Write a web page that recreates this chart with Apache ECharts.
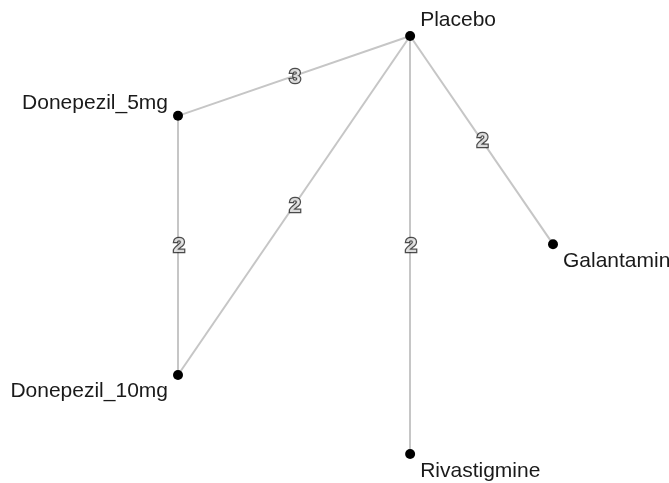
<!DOCTYPE html>
<html>
<head>
<meta charset="utf-8">
<script src="https://cdn.jsdelivr.net/npm/echarts@6/dist/echarts.min.js"></script>
<style>html,body{margin:0;padding:0;background:#fff}#c{width:669px;height:483px}</style>
</head>
<body>
<div id="c"></div>
<script>
// Network data
const treatments = ['Placebo', 'Donepezil_5mg', 'Donepezil_10mg', 'Rivastigmine', 'Galantamine'];
const layoutX = [0.619, 0, 0, 0.619, 1];
const layoutY = [1, 0.809, 0.189, 0, 0.502];
const edgeFrom = ['Placebo', 'Placebo', 'Placebo', 'Placebo', 'Donepezil_5mg'];
const edgeTo = ['Donepezil_5mg', 'Donepezil_10mg', 'Rivastigmine', 'Galantamine', 'Donepezil_10mg'];
const edgeStudies = [3, 2, 2, 2, 2];

// Label placement (styling)
const labelPlace = {
  'Placebo': { position: 'right', offset: [0, -16] },
  'Donepezil_5mg': { position: 'left', offset: [0, -13] },
  'Donepezil_10mg': { position: 'left', offset: [0, 16] },
  'Rivastigmine': { position: 'right', offset: [0, 17] },
  'Galantamine': { position: 'right', offset: [0, 17] }
};

const FONT = 'Liberation Sans, Arial, sans-serif';
const nodes = treatments.map((t, i) => ({
  name: t,
  value: [layoutX[i], layoutY[i]],
  label: Object.assign({ show: true }, labelPlace[t])
}));
const links = edgeFrom.map((f, i) => ({ source: f, target: edgeTo[i], value: edgeStudies[i] }));
const idx = n => treatments.indexOf(n);
const mids = edgeFrom.map((f, i) => [
  (layoutX[idx(f)] + layoutX[idx(edgeTo[i])]) / 2,
  (layoutY[idx(f)] + layoutY[idx(edgeTo[i])]) / 2,
  edgeStudies[i]
]);

const chart = echarts.init(document.getElementById('c'), null, { renderer: 'canvas' });
chart.setOption({
  animation: false,
  backgroundColor: '#fff',
  grid: { left: 178, right: 116, top: 36, bottom: 29 },
  xAxis: { type: 'value', min: 0, max: 1, show: false },
  yAxis: { type: 'value', min: 0, max: 1, show: false },
  series: [
    {
      type: 'graph',
      coordinateSystem: 'cartesian2d',
      layout: 'none',
      data: nodes,
      links: links,
      symbol: 'circle',
      symbolSize: 10,
      itemStyle: { color: '#000' },
      lineStyle: { color: '#c6c6c6', width: 2, opacity: 1 },
      label: { color: '#1a1a1a', fontSize: 21, fontFamily: FONT, distance: 5 },
      emphasis: { disabled: true },
      z: 2
    },
    {
      type: 'scatter',
      data: mids,
      symbol: 'circle',
      symbolSize: 2,
      itemStyle: { color: 'rgba(0,0,0,0)' },
      label: {
        show: true,
        position: 'inside',
        offset: [1, 1],
        formatter: p => String(p.value[2]),
        color: '#fff',
        fontSize: 21,
        fontWeight: 'bold',
        fontFamily: FONT,
        textBorderColor: '#1e1e1e',
        textBorderWidth: 2.5
      },
      emphasis: { disabled: true },
      z: 3
    }
  ]
});
</script>
</body>
</html>
